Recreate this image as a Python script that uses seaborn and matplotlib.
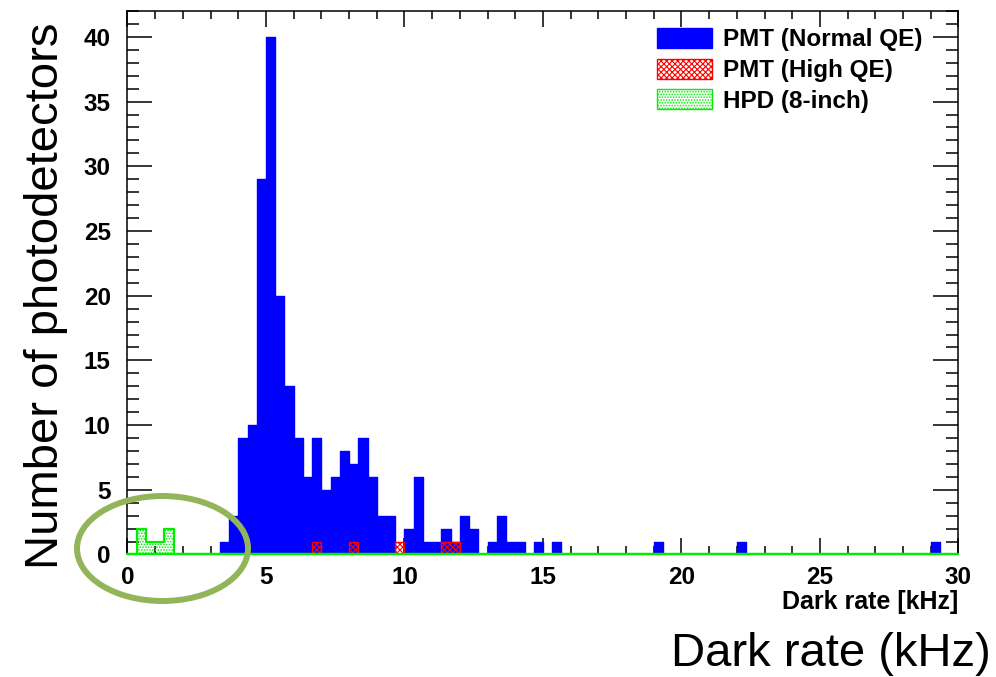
import numpy as np
import pandas as pd
import matplotlib
matplotlib.use("Agg")
import matplotlib.pyplot as plt
from matplotlib.patches import Patch, Ellipse
from matplotlib.ticker import MultipleLocator
import seaborn as sns

# ---- data (histogram with 1/3 kHz bins from 0 to 30 kHz) ----
n_bins = 90
x_min, x_max = 0.0, 30.0

normal_bins = [10, 11, 12, 13, 14, 15, 16, 17, 18, 19, 20, 21, 22, 23, 24, 25, 26, 27, 28,
               30, 31, 32, 33, 34, 35, 36, 37, 39, 40, 41, 42, 44, 46, 57, 66, 87]
normal_counts = [1, 3, 9, 10, 29, 40, 20, 13, 9, 6, 9, 5, 6, 8, 7, 9, 6, 3, 3,
                 2, 6, 1, 1, 2, 1, 3, 2, 1, 3, 1, 1, 1, 1, 1, 1, 1]

highqe_bins = [20, 24, 29, 34, 35]
highqe_counts = [1, 1, 1, 1, 1]

hpd_bins = [1, 2, 3, 4]
hpd_counts = [2, 1, 1, 2]

series_labels = ["PMT (Normal QE)", "PMT (High QE)", "HPD (8-inch)"]
x_ticks = [0, 5, 10, 15, 20, 25, 30]
y_ticks = [0, 5, 10, 15, 20, 25, 30, 35, 40]

edges = np.linspace(x_min, x_max, n_bins + 1)
centers = 0.5 * (edges[:-1] + edges[1:])


def full_counts(bins, counts):
    arr = np.zeros(n_bins)
    arr[bins] = counts
    return arr


df = pd.DataFrame({
    "rate": np.tile(centers, 3),
    "count": np.concatenate([full_counts(normal_bins, normal_counts),
                             full_counts(highqe_bins, highqe_counts),
                             full_counts(hpd_bins, hpd_counts)]),
    "type": np.repeat(series_labels, n_bins),
})

# ---- style ----
sns.set_style("ticks")
plt.rcParams["font.family"] = ["Liberation Sans", "DejaVu Sans"]
plt.rcParams["hatch.linewidth"] = 0.8
for key in ["text.color", "axes.labelcolor", "xtick.color", "ytick.color",
            "xtick.labelcolor", "ytick.labelcolor", "axes.edgecolor"]:
    plt.rcParams[key] = "black"

fig = plt.figure(figsize=(9.96, 6.77), dpi=100)
ax = fig.add_axes([0.128, 0.181, 0.8343, 0.8027])

blue = "#0000ff"
red = "#ff0000"
green = "#00ee00"

common = dict(x="rate", weights="count", bins=n_bins, binrange=(x_min, x_max),
              element="step", fill=True, ax=ax)
sns.histplot(data=df[df["type"] == series_labels[0]], color=blue, facecolor=blue,
             edgecolor=blue, linewidth=1.0, alpha=1, **common)
sns.histplot(data=df[df["type"] == series_labels[1]], color=red, facecolor="none",
             edgecolor=red, hatch="xxxxxx", linewidth=1.0, **common)
sns.histplot(data=df[df["type"] == series_labels[2]], color=green, facecolor="none",
             edgecolor=green, hatch="......", linewidth=1.6, zorder=3, **common)
ax.collections[-1].set_clip_on(False)

ax.set_xlim(x_min, x_max)
ax.set_ylim(0, 42)
ax.set_xticks(x_ticks)
ax.set_yticks(y_ticks)
ax.xaxis.set_minor_locator(MultipleLocator(1))
ax.yaxis.set_minor_locator(MultipleLocator(1))
ax.tick_params(axis="both", which="both", direction="in", top=True, right=True,
               width=1.1, color="black", labelcolor="black")
ax.tick_params(axis="x", which="major", length=11.5, pad=8)
ax.tick_params(axis="x", which="minor", length=5.8)
ax.tick_params(axis="y", which="major", length=18, pad=12)
ax.tick_params(axis="y", which="minor", length=8.6)
for lab in ax.get_xticklabels() + ax.get_yticklabels():
    lab.set_fontweight("bold")
    lab.set_fontsize(17.5)
for sp in ax.spines.values():
    sp.set_linewidth(1.1)
    sp.set_color("black")

ax.set_ylabel("")
ax.set_xlabel("Dark rate [kHz]", fontsize=18, fontweight="bold", loc="right",
              labelpad=0.8, color="black")

# big annotation labels
fig.text(0.046, 1 - 296 / 677, "Number of photodetectors", rotation=90,
         fontsize=34, ha="center", va="center", color="black")
fig.text(0.9945, 1 - 654 / 677, "Dark rate (kHz)", fontsize=34, ha="right", va="center",
         color="black")

# legend
handles = [Patch(facecolor=blue, edgecolor=blue),
           Patch(facecolor="white", edgecolor=red, hatch="xxxxxx"),
           Patch(facecolor="white", edgecolor=green, hatch="......")]
leg = ax.legend(handles, series_labels, loc="upper left",
                bbox_to_anchor=(657 / 996, 1 - 28 / 677), bbox_transform=fig.transFigure,
                frameon=False, prop={"weight": "bold", "size": 17.5},
                handlelength=2.25, handleheight=0.9, handletextpad=0.45,
                labelspacing=0.29, borderpad=0, borderaxespad=0)
for t in leg.get_texts():
    t.set_color("black")

# highlight ellipse
ell = Ellipse((162.5 / 996, 1 - 548.5 / 677), 171 / 996, 105 / 677,
              transform=fig.transFigure, fill=False, edgecolor="#93b55a",
              linewidth=4.3, clip_on=False)
fig.patches.append(ell)

fig.savefig("out.png", dpi=100)
